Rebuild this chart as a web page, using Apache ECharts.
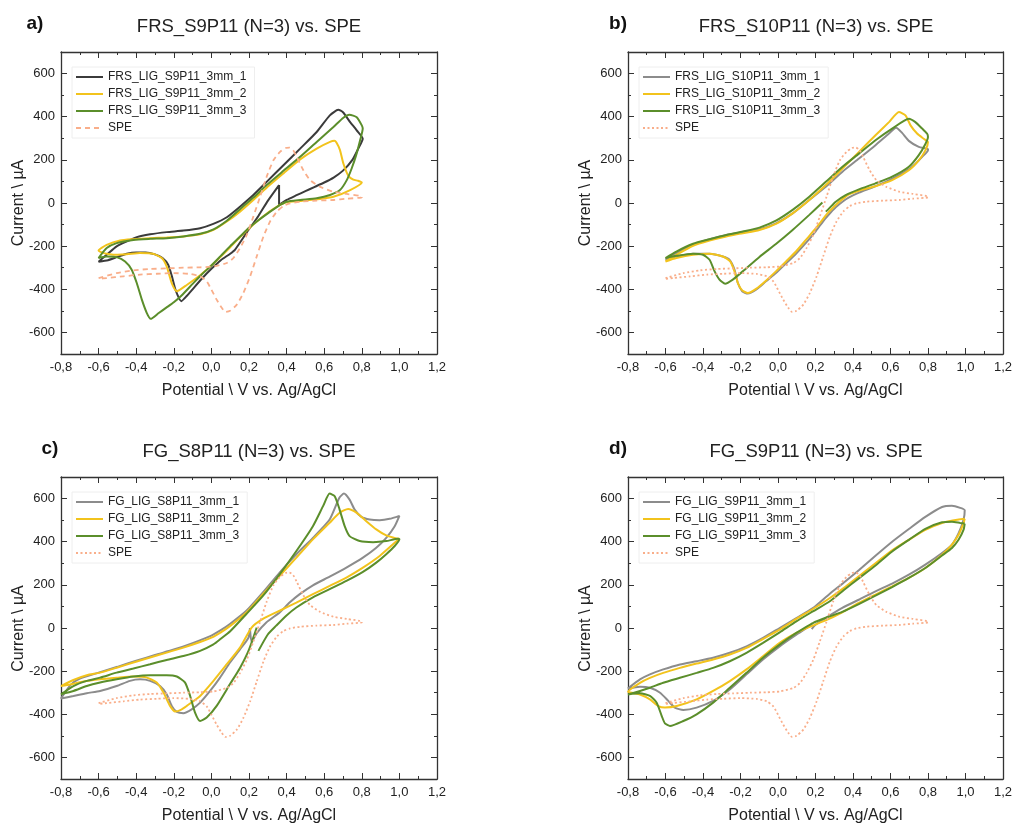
<!DOCTYPE html>
<html><head><meta charset="utf-8">
<script src="https://cdn.jsdelivr.net/npm/echarts@6/dist/echarts.min.js"></script>
<style>html,body{margin:0;padding:0;background:#fff}#c{width:1015px;height:825px}</style>
</head><body><div id="c"></div>
<script>
// ---------- data (Potential V, Current µA) ----------
const X_MIN = -0.8, X_MAX = 1.2, X_STEP = 0.2;
const Y_MIN = -700, Y_MAX = 700;
const Y_LABELS = [-600, -400, -200, 0, 200, 400, 600];
const Y_MINOR = [-500, -300, -100, 100, 300, 500];

const titles = ['FRS_S9P11 (N=3) vs. SPE', 'FRS_S10P11 (N=3) vs. SPE', 'FG_S8P11 (N=3) vs. SPE', 'FG_S9P11 (N=3) vs. SPE'];
const tags = ['a)', 'b)', 'c)', 'd)'];
const xName = 'Potential \\ V vs. Ag/AgCl';
const yName = 'Current \\ µA';
const namesA = ['FRS_LIG_S9P11_3mm_1', 'FRS_LIG_S9P11_3mm_2', 'FRS_LIG_S9P11_3mm_3', 'SPE'];
const namesB = ['FRS_LIG_S10P11_3mm_1', 'FRS_LIG_S10P11_3mm_2', 'FRS_LIG_S10P11_3mm_3', 'SPE'];
const namesC = ['FG_LIG_S8P11_3mm_1', 'FG_LIG_S8P11_3mm_2', 'FG_LIG_S8P11_3mm_3', 'SPE'];
const namesD = ['FG_LIG_S9P11_3mm_1', 'FG_LIG_S9P11_3mm_2', 'FG_LIG_S9P11_3mm_3', 'SPE'];

const SPE = [[-0.6,-348],[-0.504,-325],[-0.415,-312],[-0.326,-306],[-0.238,-303],[-0.149,-300],[-0.06,-298],[0.011,-294],[0.082,-278],[0.117,-255],[0.152,-209],[0.188,-148],[0.223,-63],[0.259,29],[0.294,122],[0.33,198],[0.365,237],[0.395,255],[0.415,257],[0.435,245],[0.454,214],[0.489,152],[0.525,106],[0.578,75],[0.649,52],[0.72,42],[0.8,30],[0.8,26],[0.72,20],[0.649,14],[0.56,11],[0.472,6],[0.418,-2],[0.383,-14],[0.348,-40],[0.312,-86],[0.277,-155],[0.241,-248],[0.206,-340],[0.17,-417],[0.135,-471],[0.099,-500],[0.075,-505],[0.055,-486],[0.028,-448],[0,-402],[-0.025,-363],[-0.06,-340],[-0.113,-329],[-0.202,-325],[-0.29,-328],[-0.38,-332],[-0.468,-340],[-0.557,-348],[-0.6,-352]];

const A1 = [[0.36,83],[0.36,-9],[0.4,14],[0.45,35],[0.5,55],[0.55,75],[0.6,95],[0.65,118],[0.7,150],[0.75,200],[0.78,250],[0.805,298],[0.773,337],[0.738,375],[0.7,421],[0.675,432],[0.63,406],[0.56,329],[0.472,252],[0.383,175],[0.294,98],[0.223,37],[0.152,-17],[0.082,-66],[0.01,-97],[-0.06,-117],[-0.149,-128],[-0.238,-135],[-0.326,-145],[-0.397,-158],[-0.45,-178],[-0.504,-201],[-0.557,-240],[-0.6,-272],[-0.55,-265],[-0.5,-250],[-0.45,-235],[-0.4,-229],[-0.35,-229],[-0.3,-238],[-0.26,-255],[-0.23,-286],[-0.21,-340],[-0.19,-405],[-0.16,-455],[-0.13,-430],[-0.1,-400],[-0.05,-350],[0,-305],[0.05,-265],[0.1,-235],[0.125,-217],[0.19,-134],[0.25,-60],[0.3,10],[0.36,83]];
const A2 = [[0.365,-9],[0.4,3],[0.472,9],[0.56,17],[0.649,29],[0.738,60],[0.8,95],[0.78,103],[0.755,108],[0.729,125],[0.702,183],[0.684,245],[0.665,280],[0.654,288],[0.631,283],[0.56,252],[0.472,202],[0.383,137],[0.294,71],[0.223,14],[0.152,-40],[0.082,-86],[0.011,-125],[-0.06,-145],[-0.149,-155],[-0.238,-160],[-0.326,-163],[-0.415,-168],[-0.486,-174],[-0.557,-194],[-0.6,-220],[-0.58,-230],[-0.55,-236],[-0.5,-240],[-0.45,-238],[-0.38,-232],[-0.31,-235],[-0.264,-255],[-0.238,-294],[-0.211,-371],[-0.184,-409],[-0.131,-380],[-0.06,-335],[0,-290],[0.05,-248],[0.1,-205],[0.15,-160],[0.2,-118],[0.25,-80],[0.3,-45],[0.365,-9]];
const A3 = [[0.365,-9],[0.4,6],[0.472,14],[0.56,22],[0.631,37],[0.684,60],[0.72,106],[0.746,160],[0.77,222],[0.791,291],[0.805,345],[0.8,360],[0.773,398],[0.734,409],[0.702,395],[0.649,352],[0.56,283],[0.472,214],[0.383,149],[0.294,83],[0.223,25],[0.152,-29],[0.082,-82],[0.011,-122],[-0.06,-143],[-0.149,-155],[-0.238,-163],[-0.326,-166],[-0.415,-171],[-0.504,-186],[-0.557,-209],[-0.6,-255],[-0.557,-248],[-0.504,-251],[-0.459,-271],[-0.424,-309],[-0.397,-371],[-0.37,-448],[-0.344,-509],[-0.323,-537],[-0.28,-510],[-0.24,-485],[-0.2,-460],[-0.16,-430],[-0.1,-375],[-0.05,-330],[0,-290],[0.05,-245],[0.1,-200],[0.15,-158],[0.2,-115],[0.25,-80],[0.3,-48],[0.365,-9]];

const B1 = [[0.282,-43],[0.308,-20],[0.344,6],[0.379,26],[0.432,48],[0.503,72],[0.574,98],[0.645,129],[0.716,168],[0.769,214],[0.8,245],[0.8,250],[0.751,260],[0.698,288],[0.662,325],[0.63,349],[0.592,322],[0.52,268],[0.432,206],[0.344,145],[0.255,75],[0.167,14],[0.078,-48],[-0.011,-94],[-0.099,-122],[-0.188,-135],[-0.276,-148],[-0.365,-168],[-0.453,-194],[-0.542,-232],[-0.6,-262],[-0.542,-248],[-0.453,-235],[-0.365,-235],[-0.294,-248],[-0.259,-263],[-0.232,-309],[-0.214,-371],[-0.191,-409],[-0.161,-420],[-0.117,-402],[-0.064,-363],[-0.011,-325],[0.043,-280],[0.096,-235],[0.149,-185],[0.202,-130],[0.245,-80],[0.282,-43]];
const B2 = [[0.264,-48],[0.282,-32],[0.308,-9],[0.344,18],[0.379,40],[0.432,57],[0.52,78],[0.609,106],[0.698,152],[0.751,198],[0.787,245],[0.8,283],[0.777,298],[0.742,322],[0.707,360],[0.68,406],[0.645,422],[0.592,375],[0.52,314],[0.432,237],[0.344,160],[0.255,83],[0.167,14],[0.078,-48],[-0.011,-97],[-0.099,-125],[-0.188,-140],[-0.276,-155],[-0.365,-174],[-0.453,-198],[-0.542,-240],[-0.6,-271],[-0.542,-255],[-0.453,-240],[-0.365,-235],[-0.294,-248],[-0.255,-271],[-0.232,-317],[-0.214,-371],[-0.191,-405],[-0.161,-417],[-0.117,-398],[-0.064,-360],[-0.011,-317],[0.043,-271],[0.096,-225],[0.149,-171],[0.202,-117],[0.237,-78],[0.264,-48]];
const B3 = [[0.255,-40],[0.273,-25],[0.308,6],[0.361,37],[0.432,63],[0.52,91],[0.609,122],[0.698,168],[0.751,222],[0.787,275],[0.8,306],[0.795,322],[0.769,345],[0.733,375],[0.698,391],[0.609,345],[0.52,291],[0.432,229],[0.344,168],[0.255,98],[0.167,29],[0.078,-32],[-0.011,-82],[-0.099,-114],[-0.188,-132],[-0.276,-148],[-0.365,-168],[-0.453,-189],[-0.542,-225],[-0.6,-255],[-0.542,-245],[-0.453,-235],[-0.4,-240],[-0.365,-263],[-0.338,-317],[-0.312,-355],[-0.282,-374],[-0.241,-355],[-0.188,-317],[-0.099,-250],[-0.011,-190],[0.078,-125],[0.167,-55],[0.237,2]];

const C1 = [[0.205,0],[0.214,-65],[0.24,-25],[0.292,26],[0.363,72],[0.416,118],[0.47,157],[0.54,198],[0.629,238],[0.718,280],[0.806,326],[0.877,372],[0.93,418],[0.975,472],[1.0,520],[0.948,506],[0.895,500],[0.842,503],[0.798,515],[0.762,549],[0.735,595],[0.705,623],[0.68,603],[0.629,503],[0.54,418],[0.452,342],[0.363,257],[0.274,165],[0.186,80],[0.1,20],[0.05,-10],[0,-35],[-0.1,-70],[-0.2,-100],[-0.3,-125],[-0.4,-152],[-0.5,-180],[-0.6,-207],[-0.7,-235],[-0.75,-265],[-0.8,-327],[-0.734,-315],[-0.663,-302],[-0.592,-292],[-0.504,-269],[-0.433,-245],[-0.379,-238],[-0.326,-245],[-0.273,-269],[-0.238,-307],[-0.211,-361],[-0.184,-389],[-0.149,-395],[-0.105,-377],[-0.06,-346],[-0.007,-292],[0.046,-230],[0.099,-160],[0.152,-99],[0.197,-45],[0.205,0]];
const C2 = [[1.0,414],[0.984,415],[0.93,429],[0.877,457],[0.824,495],[0.773,534],[0.727,552],[0.682,534],[0.629,488],[0.54,411],[0.452,326],[0.363,242],[0.274,157],[0.186,72],[0.1,10],[0.05,-20],[0,-45],[-0.06,-65],[-0.149,-91],[-0.238,-114],[-0.326,-137],[-0.415,-160],[-0.504,-184],[-0.592,-207],[-0.663,-219],[-0.734,-241],[-0.8,-269],[-0.75,-262],[-0.68,-248],[-0.592,-238],[-0.504,-231],[-0.415,-225],[-0.344,-230],[-0.291,-253],[-0.255,-299],[-0.22,-361],[-0.193,-387],[-0.16,-378],[-0.131,-361],[-0.06,-315],[0.011,-245],[0.082,-168],[0.152,-91],[0.214,2],[0.274,42],[0.363,80],[0.452,118],[0.54,157],[0.629,195],[0.718,234],[0.806,280],[0.895,334],[0.966,388],[1.0,414]];
const C3 = [[0.25,-106],[0.3,-30],[0.345,11],[0.398,57],[0.452,95],[0.54,142],[0.629,180],[0.718,218],[0.806,260],[0.877,303],[0.93,342],[0.975,380],[1.0,411],[0.993,414],[0.93,403],[0.86,398],[0.789,403],[0.735,426],[0.709,472],[0.682,549],[0.656,611],[0.629,623],[0.594,565],[0.54,472],[0.452,357],[0.363,249],[0.274,149],[0.186,65],[0.1,-15],[0.05,-50],[0.011,-76],[-0.06,-106],[-0.149,-130],[-0.238,-148],[-0.326,-168],[-0.415,-188],[-0.504,-207],[-0.592,-230],[-0.663,-245],[-0.734,-269],[-0.8,-307],[-0.734,-292],[-0.663,-269],[-0.592,-253],[-0.504,-238],[-0.415,-225],[-0.326,-219],[-0.238,-219],[-0.184,-225],[-0.14,-253],[-0.113,-315],[-0.087,-392],[-0.06,-431],[-0.025,-415],[0.028,-361],[0.099,-260],[0.152,-185],[0.2,-100],[0.241,2]];

const D1 = [[0.18,-5],[0.2,15],[0.254,46],[0.343,93],[0.431,131],[0.52,170],[0.609,206],[0.698,247],[0.786,294],[0.875,348],[0.928,387],[0.964,441],[0.99,503],[0.996,546],[0.972,557],[0.928,567],[0.875,561],[0.786,515],[0.7,460],[0.609,400],[0.52,335],[0.431,268],[0.35,210],[0.275,158],[0.186,92],[0.098,46],[0.009,0],[-0.08,-46],[-0.168,-85],[-0.257,-115],[-0.346,-138],[-0.434,-154],[-0.523,-169],[-0.612,-192],[-0.683,-215],[-0.736,-238],[-0.8,-280],[-0.736,-272],[-0.683,-277],[-0.629,-300],[-0.585,-338],[-0.55,-369],[-0.505,-380],[-0.434,-369],[-0.346,-338],[-0.257,-285],[-0.168,-215],[-0.08,-146],[0.009,-85],[0.098,-31],[0.168,8],[0.183,23]];
const D2 = [[0.996,506],[0.964,503],[0.875,487],[0.786,455],[0.7,410],[0.609,360],[0.52,300],[0.431,240],[0.35,185],[0.275,138],[0.186,88],[0.098,42],[0.009,-8],[-0.08,-51],[-0.168,-92],[-0.257,-123],[-0.346,-146],[-0.434,-165],[-0.523,-185],[-0.612,-208],[-0.683,-231],[-0.736,-254],[-0.8,-295],[-0.736,-308],[-0.683,-331],[-0.638,-362],[-0.603,-369],[-0.54,-362],[-0.434,-331],[-0.346,-292],[-0.257,-246],[-0.168,-192],[-0.08,-131],[0.009,-69],[0.098,-23],[0.168,5],[0.254,35],[0.343,73],[0.431,116],[0.52,155],[0.609,193],[0.698,232],[0.786,278],[0.875,340],[0.928,387],[0.964,433],[0.99,487],[0.996,506]];
const D3 = [[0.996,484],[0.972,487],[0.928,493],[0.875,490],[0.786,460],[0.7,410],[0.609,355],[0.52,290],[0.431,230],[0.35,175],[0.275,123],[0.186,77],[0.098,31],[0.009,-20],[-0.08,-69],[-0.168,-115],[-0.257,-154],[-0.346,-185],[-0.434,-208],[-0.523,-231],[-0.612,-254],[-0.683,-277],[-0.736,-292],[-0.8,-308],[-0.736,-303],[-0.683,-315],[-0.647,-346],[-0.62,-408],[-0.603,-442],[-0.576,-454],[-0.505,-431],[-0.434,-400],[-0.346,-346],[-0.257,-277],[-0.168,-208],[-0.08,-138],[0.009,-77],[0.098,-23],[0.186,23],[0.275,54],[0.343,75],[0.431,111],[0.52,150],[0.609,190],[0.698,232],[0.786,278],[0.875,336],[0.928,371],[0.964,410],[0.99,456],[0.996,484]];

// ---------- styling / layout ----------
const FONT = 'Liberation Sans, Arial, sans-serif';
const DARK = '#3b3b3b', GRAY = '#8c8c8c', YEL = '#f2c31c', GRN = '#5b8e2b', SAL = '#f9ae8a';
const AXC = '#333333';
const W = 376;
const panels = [
  {left: 61,  top: 52,  h: 302, names: namesA, data: [A1, A2, A3, SPE], colors: [DARK, YEL, GRN, SAL], speDash: [5, 4], tagPos: [35, 24]},
  {left: 628, top: 52,  h: 302, names: namesB, data: [B1, B2, B3, SPE], colors: [GRAY, YEL, GRN, SAL], speDash: [2, 2.5], tagPos: [618, 24]},
  {left: 61,  top: 477, h: 303, names: namesC, data: [C1, C2, C3, SPE], colors: [GRAY, YEL, GRN, SAL], speDash: [2, 2.5], tagPos: [50, 449]},
  {left: 628, top: 477, h: 303, names: namesD, data: [D1, D2, D3, SPE], colors: [GRAY, YEL, GRN, SAL], speDash: [2, 2.5], tagPos: [618, 449]}
];

const fmtX = v => { const r = Math.round(v * 10) / 10; return (r === 0 ? '0.0' : r.toFixed(1)).replace('.', ','); };

const grid = [], xAxis = [], yAxis = [], series = [], legend = [], graphic = [];
panels.forEach((p, i) => {
  grid.push({left: p.left, top: p.top, width: W, height: p.h});
  const xBase = {
    type: 'value', gridIndex: i, min: X_MIN, max: X_MAX, interval: X_STEP,
    splitLine: {show: false},
    axisLine: {show: true, onZero: false, lineStyle: {color: AXC, width: 1.3}},
    axisTick: {show: true, inside: true, length: 6, lineStyle: {color: AXC, width: 1}},
    minorTick: {show: true, splitNumber: 2, length: 3, lineStyle: {color: AXC, width: 1}}
  };
  xAxis.push(Object.assign({}, xBase, {
    position: 'bottom',
    axisLabel: {show: true, formatter: fmtX, margin: 7, color: '#222', fontFamily: FONT, fontSize: 13, showMinLabel: true, showMaxLabel: true},
    name: xName, nameLocation: 'middle', nameGap: 29,
    nameTextStyle: {fontFamily: FONT, fontSize: 16, color: '#222'}
  }));
  xAxis.push(Object.assign({}, xBase, {position: 'top', axisLabel: {show: false}}));
  const yBase = {
    type: 'value', gridIndex: i, min: Y_MIN, max: Y_MAX, splitLine: {show: false}
  };
  ['left', 'right'].forEach(pos => {
    yAxis.push(Object.assign({}, yBase, {
      position: pos,
      axisLine: {show: true, onZero: false, lineStyle: {color: AXC, width: 1.3}},
      axisTick: {show: true, inside: true, length: 6, customValues: Y_LABELS, lineStyle: {color: AXC, width: 1}},
      axisLabel: pos === 'left'
        ? {show: true, customValues: Y_LABELS, margin: 6, color: '#222', fontFamily: FONT, fontSize: 13}
        : {show: false}
    }));
    yAxis.push(Object.assign({}, yBase, {
      position: pos,
      axisLine: {show: false, onZero: false},
      axisTick: {show: true, inside: true, length: 3, customValues: Y_MINOR, lineStyle: {color: AXC, width: 1}},
      axisLabel: {show: false, customValues: Y_MINOR}
    }));
  });
  p.data.forEach((d, k) => {
    const isSpe = k === 3;
    series.push({
      type: 'line', name: isSpe ? 'SPE#' + i : p.names[k],
      xAxisIndex: 2 * i, yAxisIndex: 4 * i,
      data: d, showSymbol: false, symbol: 'none', smooth: 0.2,
      lineStyle: {color: p.colors[k], width: isSpe ? 1.8 : 2, type: isSpe ? p.speDash : 'solid'},
      itemStyle: {color: p.colors[k]},
      z: 2 + k
    });
  });
  legend.push({
    orient: 'vertical', left: p.left + 11, top: p.top + 15,
    itemWidth: 27, itemHeight: 10, itemGap: 5, padding: [4, 8, 4, 3],
    backgroundColor: '#ffffff', borderColor: '#eeeeee', borderWidth: 1,
    selectedMode: false,
    itemStyle: {opacity: 0},
    data: p.names.map((n, k) => k === 3 ? 'SPE#' + i : n),
    formatter: n => n.indexOf('SPE#') === 0 ? 'SPE' : n,
    textStyle: {fontFamily: FONT, fontSize: 12, color: '#222'}
  });
  graphic.push({
    type: 'text', x: p.left + W / 2, y: p.tagPos[1] + 3,
    style: {text: titles[i], font: '18.5px ' + FONT, fill: '#222', align: 'center', verticalAlign: 'middle'}
  });
  graphic.push({
    type: 'text', x: p.tagPos[0], y: p.tagPos[1],
    style: {text: tags[i], font: 'bold 19px ' + FONT, fill: '#111', align: 'center', verticalAlign: 'middle'}
  });
  graphic.push({
    type: 'text', x: p.left - 42, y: p.top + p.h / 2, rotation: Math.PI / 2,
    style: {text: yName, font: '16px ' + FONT, fill: '#222', align: 'center', verticalAlign: 'middle'}
  });
});

const chart = echarts.init(document.getElementById('c'), null, {renderer: 'canvas'});
chart.setOption({animation: false, backgroundColor: '#fff', grid, xAxis, yAxis, series, legend, graphic});
</script>
</body></html>
